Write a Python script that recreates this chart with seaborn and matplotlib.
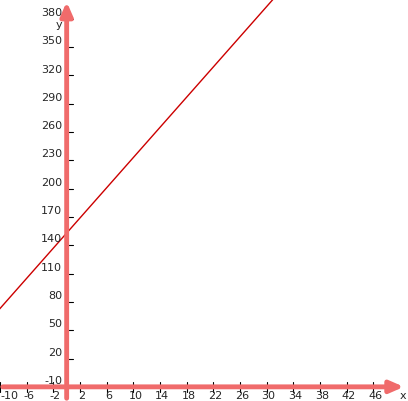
import numpy as np
import matplotlib
matplotlib.use("Agg")
import matplotlib.pyplot as plt
import seaborn as sns

# line y = 8x + 153, two endpoints spanning the view
line_x = [-12, 40]
line_y = [8 * v + 153 for v in line_x]

x_ticks = [-10, -6, -2, 2, 6, 10, 14, 18, 22, 26, 30, 34, 38, 42, 46]
y_ticks = [-10, 20, 50, 80, 110, 140, 170, 200, 230, 260, 290, 320, 350, 380]

sns.set_style("white")
fig = plt.figure(figsize=(4.08, 4.02), dpi=100)
ax = fig.add_axes([0, 0, 1, 1])
ax.set_xlim(-10, 51.2)
ax.set_ylim(-25, 401)
ax.axis("off")

sns.lineplot(x=line_x, y=line_y, color="#cc0000", linewidth=1, ax=ax)

axis_col = "#f06b6b"
ax.annotate("", xy=(51, -10), xytext=(-10, -10),
            arrowprops=dict(arrowstyle="-|>,head_width=0.35,head_length=0.8", color=axis_col, lw=3.5))
ax.annotate("", xy=(0, 401), xytext=(0, -25),
            arrowprops=dict(arrowstyle="-|>,head_width=0.35,head_length=0.8", color=axis_col, lw=3.5))

for t in x_ticks:
    ax.plot([t, t], [-10 - 5, -10 + 5], color="black", lw=0.8)
    if t == x_ticks[0]:
        ax.text(-10, -13, str(t), ha="left", va="top", fontsize=8)
    else:
        ax.text(t + 0.3, -13, str(t), ha="center", va="top", fontsize=8)
for t in y_ticks:
    ax.plot([0, 1], [t, t], color="black", lw=0.8)
    ax.text(-0.7, t + 2, str(t), ha="right", va="bottom", fontsize=8)
ax.text(50.5, -13, "x", ha="center", va="top", fontsize=8)
ax.text(-0.6, 375, "y", ha="right", va="center", fontsize=8)

fig.savefig("out.png", dpi=100)
